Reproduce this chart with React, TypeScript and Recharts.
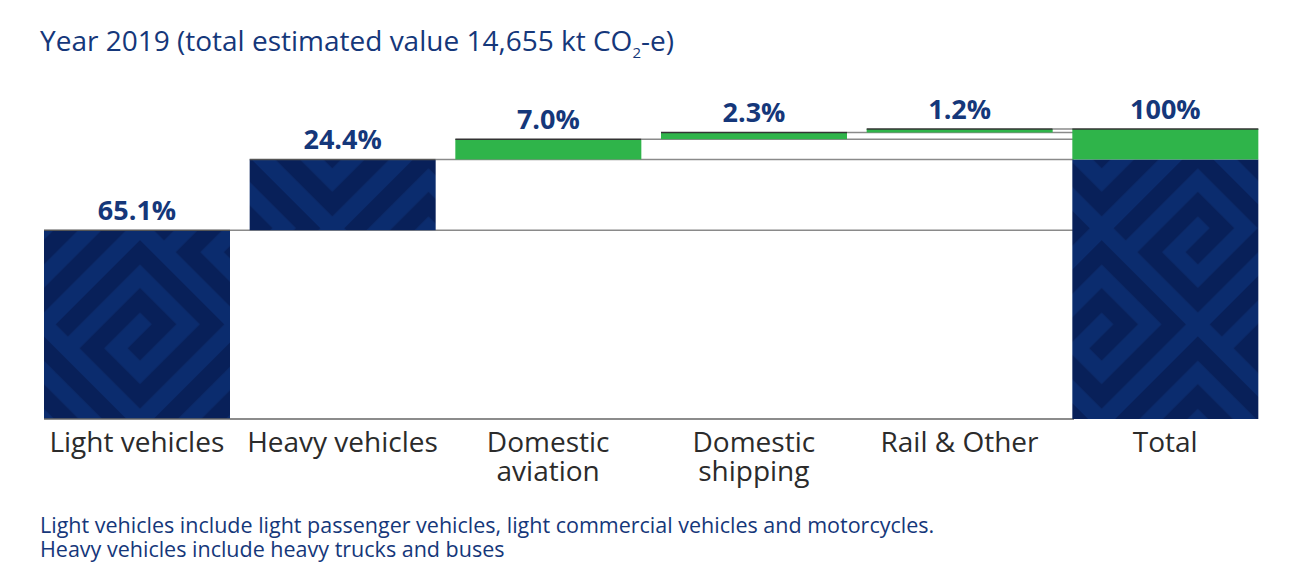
import React from "react";
import { BarChart, Bar, XAxis, YAxis, LabelList } from "recharts";

const CATEGORIES = ["Light vehicles", "Heavy vehicles", "Domestic aviation", "Domestic shipping", "Rail & Other", "Total"];
const TICK_LINES = [["Light vehicles"], ["Heavy vehicles"], ["Domestic", "aviation"], ["Domestic", "shipping"], ["Rail & Other"], ["Total"]];
const SHARES = [65.1, 24.4, 7.0, 2.3, 1.2];
const IS_ROAD = [true, true, false, false, false];
const VALUE_LABELS = ["65.1%", "24.4%", "7.0%", "2.3%", "1.2%", "100%"];

const NAVY = "#0b2c6e";
const NAVY_DARK = "#082059";
const GREEN = "#2fb44a";
const TEXT_NAVY = "#15377a";
const FONT = "'Open Sans', sans-serif";
const GAP = 10; // px each side of a bar
const TOTAL_IDX = CATEGORIES.length - 1;

// greek-key spiral for the bar fill (7x7 cells, one light row/col as separator)
const CELL = 17;
const SPIRAL = [
  "1111111",
  "1000001",
  "1011101",
  "1010101",
  "1010101",
  "1010001",
  "1011111",
];

// waterfall rows: invisible base + visible segment
let cum = 0;
let roadSum = 0;
let otherSum = 0;
const rows: any[] = SHARES.map((v, i) => {
  const row: any = { name: CATEGORIES[i], base: cum };
  if (IS_ROAD[i]) {
    row.navy = v;
    row.navyLabel = VALUE_LABELS[i];
    roadSum += v;
  } else {
    row.green = v;
    row.greenLabel = VALUE_LABELS[i];
    otherSum += v;
  }
  cum += v;
  return row;
});
rows.push({
  name: CATEGORIES[TOTAL_IDX],
  base: 0,
  navy: roadSum,
  green: otherSum,
  greenLabel: VALUE_LABELS[TOTAL_IDX],
});

const endX = (x: number, width: number, index: number) => x + (TOTAL_IDX - index) * (width + 2 * GAP);

const NavyShape = (props: any) => {
  const { x, y, width, height, index, payload } = props;
  if (!height) return null;
  const isTop = payload.green === undefined;
  return (
    <g>
      <rect x={x} y={y} width={width} height={height} fill="url(#maze)" />
      {isTop && index < TOTAL_IDX && (
        <>
          <line x1={x + width} x2={endX(x, width, index)} y1={y} y2={y} stroke="#8a8a8a" strokeWidth={1.5} />
          <line x1={x} x2={x + width} y1={y} y2={y} stroke="#555" strokeWidth={1.5} />
        </>
      )}
      {index === 0 && (
        <line x1={x} x2={endX(x, width, index)} y1={y + height} y2={y + height} stroke="#666" strokeWidth={1.5} />
      )}
    </g>
  );
};

const GreenShape = (props: any) => {
  const { x, y, width, height, index } = props;
  if (!height) return null;
  return (
    <g>
      <rect x={x} y={y} width={width} height={height} fill={GREEN} />
      {index < TOTAL_IDX && (
        <line x1={x + width} x2={endX(x, width, index)} y1={y} y2={y} stroke="#8a8a8a" strokeWidth={1.5} />
      )}
      <line x1={x} x2={x + width} y1={y} y2={y} stroke="#333" strokeWidth={1.5} />
    </g>
  );
};

const CategoryTick = (props: any) => {
  const { x, y, index } = props;
  const lines = TICK_LINES[index] || [props.payload.value];
  return (
    <text x={x} y={y} textAnchor="middle" fill="#2b2b2b" fontSize={28} fontFamily={FONT}>
      {lines.map((l: string, i: number) => (
        <tspan key={i} x={x} dy={i === 0 ? 33 : 29}>
          {l}
        </tspan>
      ))}
    </text>
  );
};

const tile = CELL * 8;

export default function App() {
  return (
    <div style={{ margin: -8, width: 1293, height: 584, background: "#f1f1f1", position: "relative", overflow: "hidden" }}>
      <div style={{ position: "absolute", left: 5, top: 4, right: 0, bottom: 0, background: "#fff" }} />
      <div
        style={{
          position: "absolute",
          left: 40,
          top: 21,
          fontFamily: FONT,
          fontSize: 28,
          color: TEXT_NAVY,
          whiteSpace: "nowrap",
        }}
      >
        Year 2019 (total estimated value 14,655 kt CO<sub style={{ fontSize: 15, verticalAlign: "-7px" }}>2</sub>-e)
      </div>
      <div style={{ position: "absolute", left: 0, top: 0 }}>
        <BarChart
          width={1293}
          height={500}
          data={rows}
          margin={{ top: 129, right: 25, bottom: 11, left: 34 }}
          barCategoryGap={GAP}
        >
          <defs>
            <pattern
              id="maze"
              patternUnits="userSpaceOnUse"
              width={tile}
              height={tile}
              patternTransform="translate(140 325) rotate(45) translate(-60 -60)"
            >
              <rect x={0} y={0} width={tile} height={tile} fill={NAVY} />
              {SPIRAL.flatMap((r, ri) =>
                r.split("").map((c, ci) =>
                  c === "1" ? (
                    <rect key={`${ri}-${ci}`} x={ci * CELL - 0.3} y={ri * CELL - 0.3} width={CELL + 0.6} height={CELL + 0.6} fill={NAVY_DARK} />
                  ) : null
                )
              )}
            </pattern>
          </defs>
          <XAxis
            dataKey="name"
            axisLine={false}
            tickLine={false}
            tickSize={0}
            tickMargin={0}
            height={70}
            interval={0}
            tick={<CategoryTick />}
          />
          <YAxis hide domain={[0, 100]} />
          <Bar dataKey="base" stackId="w" fill="transparent" isAnimationActive={false} />
          <Bar dataKey="navy" stackId="w" fill={NAVY} shape={<NavyShape />} isAnimationActive={false}>
            <LabelList
              dataKey="navyLabel"
              position="top"
              offset={10}
              fill={TEXT_NAVY}
              fontSize={27}
              fontWeight={700}
              fontFamily={FONT}
            />
          </Bar>
          <Bar dataKey="green" stackId="w" fill={GREEN} shape={<GreenShape />} isAnimationActive={false}>
            <LabelList
              dataKey="greenLabel"
              position="top"
              offset={10}
              fill={TEXT_NAVY}
              fontSize={27}
              fontWeight={700}
              fontFamily={FONT}
            />
          </Bar>
        </BarChart>
      </div>
      <div
        style={{
          position: "absolute",
          left: 40,
          top: 513,
          fontFamily: FONT,
          fontSize: 21.5,
          lineHeight: "24px",
          color: TEXT_NAVY,
          whiteSpace: "nowrap",
        }}
      >
        Light vehicles include light passenger vehicles, light commercial vehicles and motorcycles.
        <br />
        Heavy vehicles include heavy trucks and buses
      </div>
    </div>
  );
}
